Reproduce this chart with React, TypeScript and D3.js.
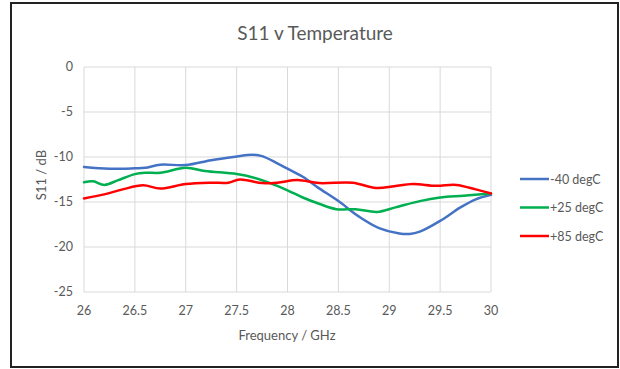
import React from "react";
import * as d3 from "d3";

const freqBlue = [26.0, 26.25, 26.5, 26.6, 26.75, 27.0, 27.25, 27.5, 27.65, 27.75, 27.9, 28.0, 28.15, 28.3, 28.5, 28.7, 28.9, 29.1, 29.2, 29.3, 29.5, 29.7, 29.85, 30.0];
const s11Blue = [-11.1, -11.3, -11.25, -11.2, -10.85, -10.9, -10.35, -9.95, -9.75, -9.9, -10.7, -11.3, -12.2, -13.4, -14.9, -16.6, -17.9, -18.5, -18.55, -18.3, -17.1, -15.6, -14.7, -14.2];

const freqGreen = [26.0, 26.09, 26.2, 26.33, 26.5, 26.6, 26.75, 27.0, 27.19, 27.5, 27.67, 27.83, 28.0, 28.15, 28.31, 28.48, 28.67, 28.88, 29.06, 29.3, 29.5, 29.73, 30.0];
const s11Green = [-12.8, -12.7, -13.1, -12.6, -11.9, -11.75, -11.75, -11.2, -11.55, -11.9, -12.3, -12.9, -13.7, -14.5, -15.2, -15.8, -15.8, -16.1, -15.6, -14.9, -14.5, -14.3, -14.05];

const freqRed = [26.0, 26.2, 26.38, 26.58, 26.75, 27.0, 27.25, 27.42, 27.53, 27.75, 27.9, 28.1, 28.31, 28.64, 28.87, 29.05, 29.23, 29.46, 29.66, 29.85, 30.0];
const s11Red = [-14.6, -14.15, -13.6, -13.15, -13.5, -13.0, -12.85, -12.85, -12.5, -12.9, -12.85, -12.55, -12.9, -12.85, -13.45, -13.25, -13.0, -13.2, -13.1, -13.6, -14.05];

const seriesNames = ["-40 degC", "+25 degC", "+85 degC"];
const seriesColors = ["#4472C4", "#00B050", "#FF0000"];
const xTicks = [26, 26.5, 27, 27.5, 28, 28.5, 29, 29.5, 30];
const yTicks = [0, -5, -10, -15, -20, -25];

const FONT = "Lato, 'Open Sans', sans-serif";
const TEXT = "#595959";

export default function App() {
  const x = d3.scaleLinear().domain([26, 30]).range([84, 491]);
  const y = d3.scaleLinear().domain([0, -25]).range([67, 292]);
  const line = d3
    .line<[number, number]>()
    .x((d) => x(d[0]))
    .y((d) => y(d[1]))
    .curve(d3.curveCatmullRom.alpha(0.5));

  const series = [
    freqBlue.map((f, i) => [f, s11Blue[i]] as [number, number]),
    freqGreen.map((f, i) => [f, s11Green[i]] as [number, number]),
    freqRed.map((f, i) => [f, s11Red[i]] as [number, number]),
  ];

  return (
    <svg width={620} height={369} style={{ position: "absolute", left: 0, top: 0 }}>
      <rect x={0} y={0} width={620} height={369} fill="#fff" />
      <rect x={11} y={3} width={607} height={364} fill="#fff" stroke="#222" strokeWidth={2} />
      <text x={315} y={40} textAnchor="middle" fontFamily={FONT} fontSize={19} fill={TEXT}>
        S11 v Temperature
      </text>
      {yTicks.map((t) => (
        <g key={"y" + t}>
          <line x1={84} x2={491} y1={y(t)} y2={y(t)} stroke="#d9d9d9" strokeWidth={1} />
          <text x={73} y={y(t) + 4} textAnchor="end" fontFamily={FONT} fontSize={12.5} fill={TEXT}>
            {t}
          </text>
        </g>
      ))}
      {xTicks.map((t) => (
        <g key={"x" + t}>
          <line x1={x(t)} x2={x(t)} y1={67} y2={292} stroke="#d9d9d9" strokeWidth={1} />
          <text x={x(t)} y={315} textAnchor="middle" fontFamily={FONT} fontSize={12.5} fill={TEXT}>
            {t}
          </text>
        </g>
      ))}
      <text x={287} y={340} textAnchor="middle" fontFamily={FONT} fontSize={13} fill={TEXT}>
        Frequency / GHz
      </text>
      <text
        transform="translate(46,175) rotate(-90)"
        textAnchor="middle"
        fontFamily={FONT}
        fontSize={13}
        fill={TEXT}
      >
        S11 / dB
      </text>
      {series.map((s, i) => (
        <path key={i} d={line(s) || ""} fill="none" stroke={seriesColors[i]} strokeWidth={2.5} strokeLinejoin="round" strokeLinecap="round" />
      ))}
      {seriesNames.map((n, i) => (
        <g key={n}>
          <line x1={520} x2={549} y1={179 + i * 28.5} y2={179 + i * 28.5} stroke={seriesColors[i]} strokeWidth={2.5} />
          <text x={550} y={183.5 + i * 28.5} fontFamily={FONT} fontSize={12.5} fill={TEXT}>
            {n}
          </text>
        </g>
      ))}
    </svg>
  );
}
